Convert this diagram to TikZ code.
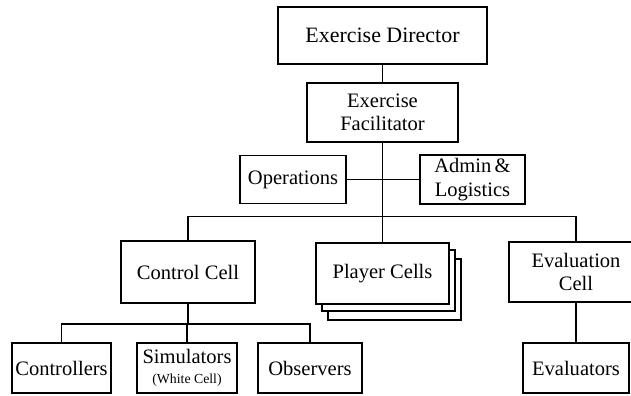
\documentclass[tikz,border=0pt]{standalone}
\usepackage{fontspec}
\setmainfont{Liberation Serif}
\tikzset{
  box/.style={draw, line width=1.2pt, fill=white, align=center,
    inner sep=2pt, font=\fontsize{14.6}{16.5}\selectfont},
  link/.style={line width=1.1pt}
}
\begin{document}
\begin{tikzpicture}[x=0.025cm, y=-0.025cm]
	\useasboundingbox (0,0) rectangle (631,395);

	\node[box, minimum width=5.225cm, minimum height=1.425cm,
        font=\fontsize{15.6}{17}\selectfont] (dir) at (382.5,35.5)
        {Exercise Director};
	\node[box, minimum width=3.775cm, minimum height=1.475cm]
        (fac) at (382.5,112.5) {Exercise\\Facilitator};
	\node[box, minimum width=2.65cm, minimum height=1.2cm]
        (ops) at (293,179.5) {Operations};
	\node[box, minimum width=2.625cm, minimum height=1.225cm]
        (adm) at (472.5,179.5) {Admin\,\&\\Logistics};

	\node[box, minimum width=3.35cm, minimum height=1.55cm]
        (ctl) at (188,272) {Control Cell};
	\node[box, minimum width=3.325cm, minimum height=1.525cm]
        (ply3) at (394.5,289.5) {};
	\node[box, minimum width=3.325cm, minimum height=1.525cm]
        (ply2) at (388.5,280.5) {};
	\node[box, minimum width=3.325cm, minimum height=1.525cm]
        (ply) at (382.5,273.5) {Player Cells};
	\node[box, minimum width=3.35cm, minimum height=1.5cm]
        (evc) at (576,272) {Evaluation\\Cell};

	\node[box, minimum width=2.475cm, minimum height=1.25cm]
        (ctr) at (61.5,368) {Controllers};
	\node[box, minimum width=2.5cm, minimum height=1.25cm]
        (sim) at (187,368)
        {Simulators\\[-2pt]{\fontsize{9.8}{11}\selectfont (White Cell)}};
	\node[box, minimum width=2.6cm, minimum height=1.25cm]
        (obs) at (310,368) {Observers};
	\node[box, minimum width=2.65cm, minimum height=1.25cm]
        (evl) at (576,368) {Evaluators};

	\coordinate (bus) at (0,216.5);
	\coordinate (low) at (0,324);

	\draw[link] (dir) -- (fac); \draw[link] (fac) -- (ply);
	\draw[link] (ops) -- (adm);
	\draw[link] (ctl.north) -- (ctl.north |- bus) -| (evc.north);
	\draw[link] (ctl) -- (ctl.south |- low);
	\draw[link] (ctr.north) |- (obs.north |- low) -- (obs.north);
	\draw[link] (sim.north) -- (sim.north |- low);
	\draw[link] (evc) -- (evl);
\end{tikzpicture}
\end{document}
